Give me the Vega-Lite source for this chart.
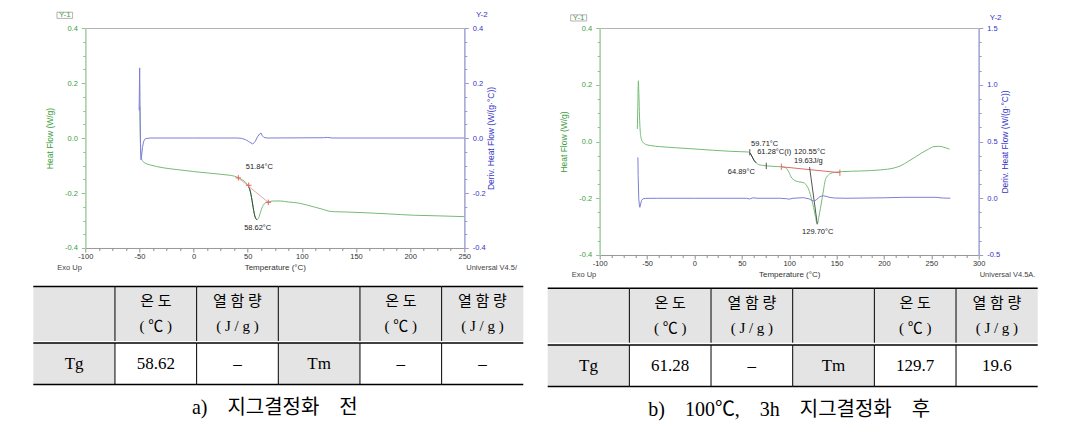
{
 "$schema": "https://vega.github.io/schema/vega-lite/v6.json",
 "background": "white",
 "padding": {"left": 32.3, "top": 10, "right": 0, "bottom": 0},
 "config": {
  "font": "Liberation Sans",
  "view": {"stroke": "#b4b4b4", "strokeWidth": 1},
  "locale": {"number": {"decimal": ".", "thousands": ",", "grouping": [3], "currency": ["", ""], "minus": "-"}},
  "axis": {"grid": false, "labelFlush": false, "labelOverlap": false, "labelFont": "Liberation Sans", "titleFont": "Liberation Sans", "titleFontWeight": "normal"},
  "title": {"font": "Liberation Sans", "fontWeight": "normal"}
 },
 "datasets": {
  "hfA": [
   {"t": -49.6, "v": 0.115}, {"t": -49.3, "v": 0.02}, {"t": -48.9, "v": -0.045}, {"t": -48.3, "v": -0.07}, {"t": -47.3, "v": -0.082},
   {"t": -46, "v": -0.088}, {"t": -44, "v": -0.093}, {"t": -40, "v": -0.098}, {"t": -34, "v": -0.104}, {"t": -27, "v": -0.109},
   {"t": -15, "v": -0.115}, {"t": 0, "v": -0.122}, {"t": 15, "v": -0.128}, {"t": 30, "v": -0.134}, {"t": 38, "v": -0.139},
   {"t": 42, "v": -0.146}, {"t": 45, "v": -0.152}, {"t": 48, "v": -0.161}, {"t": 50, "v": -0.172}, {"t": 51.5, "v": -0.183},
   {"t": 52.5, "v": -0.196}, {"t": 53.5, "v": -0.216}, {"t": 54.5, "v": -0.24}, {"t": 55.5, "v": -0.264}, {"t": 56.5, "v": -0.283},
   {"t": 57.6, "v": -0.294}, {"t": 58.6, "v": -0.297}, {"t": 59.6, "v": -0.294}, {"t": 60.6, "v": -0.285}, {"t": 61.6, "v": -0.272},
   {"t": 62.6, "v": -0.26}, {"t": 63.6, "v": -0.25}, {"t": 64.6, "v": -0.243}, {"t": 66, "v": -0.237}, {"t": 68, "v": -0.233},
   {"t": 70, "v": -0.231}, {"t": 75, "v": -0.229}, {"t": 80, "v": -0.229}, {"t": 88, "v": -0.233}, {"t": 96, "v": -0.236},
   {"t": 104, "v": -0.243}, {"t": 111.5, "v": -0.251}, {"t": 119, "v": -0.259}, {"t": 125, "v": -0.266}, {"t": 130, "v": -0.268},
   {"t": 140, "v": -0.269}, {"t": 160, "v": -0.272}, {"t": 180, "v": -0.276}, {"t": 204, "v": -0.281}, {"t": 225, "v": -0.283},
   {"t": 250, "v": -0.286}
  ],
  "dvA": [
   {"t": -50.3, "v": 0.1}, {"t": -49.8, "v": 0.255}, {"t": -49.4, "v": 0.1}, {"t": -49.0, "v": -0.02}, {"t": -48.6, "v": -0.079},
   {"t": -48.0, "v": -0.065}, {"t": -47.2, "v": -0.035}, {"t": -46.3, "v": -0.015}, {"t": -45.2, "v": -0.005}, {"t": -44, "v": -0.002},
   {"t": -40, "v": 0}, {"t": 0, "v": 0}, {"t": 40, "v": 0}, {"t": 44, "v": -0.001}, {"t": 48, "v": -0.006}, {"t": 51, "v": -0.013},
   {"t": 54.6, "v": -0.022}, {"t": 57, "v": -0.012}, {"t": 59, "v": 0.004}, {"t": 61, "v": 0.015}, {"t": 62.3, "v": 0.018},
   {"t": 63.5, "v": 0.008}, {"t": 65, "v": 0.002}, {"t": 68, "v": 0}, {"t": 120, "v": 0.001}, {"t": 124, "v": 0.002},
   {"t": 128, "v": 0}, {"t": 250, "v": 0}
  ],
  "tanA": [{"t1": 41.3, "v1": -0.145, "t2": 69, "v2": -0.234}],
  "mkA": [{"t": 41.3, "v": -0.145}, {"t": 50.9, "v": -0.172}, {"t": 69, "v": -0.234}],
  "lbA": [{"t": 60.7, "v": -0.107, "label": "51.84°C"}, {"t": 59.2, "v": -0.329, "label": "58.62°C"}],
  "hfB": [
   {"t": -60.3, "v": 0.044}, {"t": -59.8, "v": 0.12}, {"t": -59.2, "v": 0.214}, {"t": -58.6, "v": 0.16}, {"t": -58.0, "v": 0.09},
   {"t": -57.3, "v": 0.04}, {"t": -56.3, "v": 0.012}, {"t": -55, "v": 0.0}, {"t": -53, "v": -0.007}, {"t": -50.8, "v": -0.011},
   {"t": -45, "v": -0.015}, {"t": -36.7, "v": -0.018}, {"t": -20, "v": -0.022}, {"t": -1.5, "v": -0.026}, {"t": 20, "v": -0.031},
   {"t": 40.7, "v": -0.035}, {"t": 56.8, "v": -0.037}, {"t": 58.5, "v": -0.04}, {"t": 60, "v": -0.048}, {"t": 61.5, "v": -0.058},
   {"t": 63, "v": -0.067}, {"t": 65, "v": -0.075}, {"t": 67.7, "v": -0.081}, {"t": 72, "v": -0.084}, {"t": 76.8, "v": -0.086},
   {"t": 85, "v": -0.088}, {"t": 91.3, "v": -0.089}, {"t": 96.7, "v": -0.093}, {"t": 98.5, "v": -0.101}, {"t": 100.4, "v": -0.113},
   {"t": 102, "v": -0.125}, {"t": 104, "v": -0.133}, {"t": 107, "v": -0.139}, {"t": 110, "v": -0.142}, {"t": 114.9, "v": -0.145},
   {"t": 117, "v": -0.149}, {"t": 118.5, "v": -0.156}, {"t": 120.5, "v": -0.168}, {"t": 122.2, "v": -0.186}, {"t": 124, "v": -0.208},
   {"t": 125.8, "v": -0.233}, {"t": 127.7, "v": -0.264}, {"t": 129.4, "v": -0.29}, {"t": 130.3, "v": -0.286}, {"t": 131.2, "v": -0.268},
   {"t": 133, "v": -0.235}, {"t": 134.9, "v": -0.198}, {"t": 136.5, "v": -0.165}, {"t": 137.8, "v": -0.14}, {"t": 139.5, "v": -0.125},
   {"t": 141.4, "v": -0.118}, {"t": 144, "v": -0.112}, {"t": 147.6, "v": -0.109}, {"t": 156.6, "v": -0.106}, {"t": 175, "v": -0.104},
   {"t": 196.6, "v": -0.1}, {"t": 211, "v": -0.093}, {"t": 218, "v": -0.085}, {"t": 225.6, "v": -0.07}, {"t": 233, "v": -0.055},
   {"t": 240, "v": -0.04}, {"t": 247, "v": -0.027}, {"t": 252.8, "v": -0.018}, {"t": 258, "v": -0.017}, {"t": 262, "v": -0.019},
   {"t": 266, "v": -0.023}, {"t": 269.2, "v": -0.027}
  ],
  "dvB": [
   {"t": -59.7, "v": 0.36}, {"t": -59.4, "v": 0.2}, {"t": -58.8, "v": 0.0}, {"t": -58.0, "v": -0.07}, {"t": -57.6, "v": -0.08},
   {"t": -56.8, "v": -0.05}, {"t": -55.8, "v": -0.02}, {"t": -54.5, "v": -0.006}, {"t": -52, "v": -0.001}, {"t": -40, "v": 0},
   {"t": 0, "v": 0}, {"t": 55, "v": 0.0}, {"t": 58, "v": -0.006}, {"t": 62, "v": 0.004}, {"t": 66, "v": 0}, {"t": 90, "v": 0},
   {"t": 97, "v": -0.004}, {"t": 100, "v": -0.008}, {"t": 104, "v": 0}, {"t": 115, "v": 0.005}, {"t": 121, "v": -0.005},
   {"t": 123.5, "v": -0.018}, {"t": 126, "v": -0.024}, {"t": 128.5, "v": -0.016}, {"t": 131, "v": 0.005}, {"t": 133.5, "v": 0.018},
   {"t": 136, "v": 0.021}, {"t": 139, "v": 0.017}, {"t": 143, "v": 0.007}, {"t": 148, "v": 0.002}, {"t": 160, "v": 0},
   {"t": 200, "v": 0.004}, {"t": 220, "v": 0.008}, {"t": 255, "v": 0.008}, {"t": 262, "v": 0.002}, {"t": 270, "v": 0}
  ],
  "segB": [
   {"t1": 91.7, "v1": -0.089, "t2": 153.5, "v2": -0.11, "kind": "baseline"},
   {"t1": 121.5, "v1": -0.09, "t2": 129.7, "v2": -0.292, "kind": "onset"}
  ],
  "mkB": [
   {"t": 58.4, "v": -0.038, "kind": "onset"}, {"t": 75.8, "v": -0.086, "kind": "onset"},
   {"t": 91.7, "v": -0.089, "kind": "baseline"}, {"t": 153.5, "v": -0.11, "kind": "baseline"}
  ],
  "lbB": [
   {"t": 74.1, "v": -0.009, "label": "59.71°C"},
   {"t": 84.2, "v": -0.037, "label": "61.28°C(I)"},
   {"t": 121.6, "v": -0.037, "label": "120.55°C"},
   {"t": 120.2, "v": -0.069, "label": "19.63J/g"},
   {"t": 49.5, "v": -0.107, "label": "64.89°C"},
   {"t": 130.1, "v": -0.32, "label": "129.70°C"}
  ],
  "thA": [
   {"row": "h", "col": "c1", "kind": "label", "text": ""},
   {"row": "h", "col": "c2", "kind": "label", "text": "온 도\n( ℃ )"},
   {"row": "h", "col": "c3", "kind": "label", "text": "열 함 량\n( J / g )"},
   {"row": "h", "col": "c4", "kind": "label", "text": ""},
   {"row": "h", "col": "c5", "kind": "label", "text": "온 도\n( ℃ )"},
   {"row": "h", "col": "c6", "kind": "label", "text": "열 함 량\n( J / g )"}
  ],
  "tbA": [
   {"row": "d", "col": "c1", "kind": "label", "text": "Tg"},
   {"row": "d", "col": "c2", "kind": "value", "text": "58.62"},
   {"row": "d", "col": "c3", "kind": "value", "text": "–"},
   {"row": "d", "col": "c4", "kind": "label", "text": "Tm"},
   {"row": "d", "col": "c5", "kind": "value", "text": "–"},
   {"row": "d", "col": "c6", "kind": "value", "text": "–"}
  ],
  "tbB": [
   {"row": "d", "col": "c1", "kind": "label", "text": "Tg"},
   {"row": "d", "col": "c2", "kind": "value", "text": "61.28"},
   {"row": "d", "col": "c3", "kind": "value", "text": "–"},
   {"row": "d", "col": "c4", "kind": "label", "text": "Tm"},
   {"row": "d", "col": "c5", "kind": "value", "text": "129.7"},
   {"row": "d", "col": "c6", "kind": "value", "text": "19.6"}
  ]
 },
 "spacing": 22.4,
 "hconcat": [
  {
   "spacing": 0,
   "vconcat": [
    {
     "width": 379, "height": 220,
     "layer": [
      {
       "layer": [
        {"data": {"name": "hfA"}, "mark": {"type": "line", "color": "#74bb74", "strokeWidth": 1, "interpolate": "monotone"},
         "encoding": {
          "x": {"field": "t", "type": "quantitative", "scale": {"domain": [-100, 250], "nice": false, "zero": false},
                "axis": {"orient": "bottom", "values": [-100, -50, 0, 50, 100, 150, 200, 250], "title": "Temperature (°C)", "titleFontSize": 8, "titleColor": "#333333", "titlePadding": 3, "labelFontSize": 7.5, "labelColor": "#333333", "labelPadding": 1, "tickSize": 4, "tickColor": "#8c8c8c", "domainColor": "#9a9a9a", "domainWidth": 1}},
          "y": {"field": "v", "type": "quantitative", "scale": {"domain": [-0.4, 0.4], "nice": false, "zero": false},
                "axis": {"orient": "left", "values": [-0.4, -0.2, 0, 0.2, 0.4], "format": ".1f", "title": "Heat Flow (W/g)", "titleColor": "#3c9c3c", "titleFontSize": 8.5, "titlePadding": 10, "labelColor": "#3c9c3c", "labelFontSize": 7.5, "labelPadding": 4, "tickSize": 4, "tickColor": "#8cc48c", "domainColor": "#a9d7a9", "domainWidth": 1.5}}
         }},
        {"data": {"name": "hfA"}, "transform": [{"filter": "datum.t >= 50 && datum.t <= 58.6"}],
         "mark": {"type": "line", "color": "#2f4a2f", "strokeWidth": 1, "interpolate": "monotone"},
         "encoding": {
          "x": {"field": "t", "type": "quantitative", "scale": {"domain": [-100, 250], "nice": false, "zero": false},
                "axis": {"orient": "bottom", "values": [-87.5, -75, -62.5, -37.5, -25, -12.5, 12.5, 25, 37.5, 62.5, 75, 87.5, 112.5, 125, 137.5, 162.5, 175, 187.5, 212.5, 225, 237.5], "labels": false, "title": null, "domain": false, "tickSize": 2.5, "tickColor": "#8c8c8c"}},
          "y": {"field": "v", "type": "quantitative", "scale": {"domain": [-0.4, 0.4], "nice": false, "zero": false},
                "axis": {"orient": "left", "values": [-0.35, -0.3, -0.25, -0.15, -0.1, -0.05, 0.05, 0.1, 0.15, 0.25, 0.3, 0.35], "labels": false, "title": null, "domain": false, "tickSize": 2.5, "tickColor": "#8cc48c"}}
         }},
        {"data": {"name": "tanA"}, "mark": {"type": "rule", "color": "#e7a3a3", "strokeWidth": 1},
         "encoding": {
          "x": {"field": "t1", "type": "quantitative", "scale": {"domain": [-100, 250], "nice": false, "zero": false}, "axis": null},
          "y": {"field": "v1", "type": "quantitative", "scale": {"domain": [-0.4, 0.4], "nice": false, "zero": false}, "axis": null},
          "x2": {"field": "t2"}, "y2": {"field": "v2"}
         }},
        {"data": {"name": "mkA"}, "mark": {"type": "point", "shape": "M-1,0L1,0M0,-1L0,1", "size": 30, "filled": false, "color": "#e06464", "strokeWidth": 1, "opacity": 1},
         "encoding": {
          "x": {"field": "t", "type": "quantitative", "scale": {"domain": [-100, 250], "nice": false, "zero": false}, "axis": null},
          "y": {"field": "v", "type": "quantitative", "scale": {"domain": [-0.4, 0.4], "nice": false, "zero": false}, "axis": null}
         }},
        {"data": {"name": "lbA"}, "mark": {"type": "text", "fontSize": 7.5, "color": "#222222", "baseline": "middle", "align": "center"},
         "encoding": {
          "x": {"field": "t", "type": "quantitative", "scale": {"domain": [-100, 250], "nice": false, "zero": false}, "axis": null},
          "y": {"field": "v", "type": "quantitative", "scale": {"domain": [-0.4, 0.4], "nice": false, "zero": false}, "axis": null},
          "text": {"field": "label"}
         }},
        {"data": {"values": [{"note": "Exo Up"}]}, "mark": {"type": "text", "align": "left", "baseline": "middle", "dx": -28, "dy": 20.3, "fontSize": 7.5, "color": "#444444"},
         "encoding": {
          "x": {"datum": -100, "type": "quantitative", "scale": {"domain": [-100, 250], "nice": false, "zero": false}, "axis": null},
          "y": {"datum": -0.4, "type": "quantitative", "scale": {"domain": [-0.4, 0.4], "nice": false, "zero": false}, "axis": null},
          "text": {"field": "note"}
         }},
        {"data": {"values": [{"note": "Universal V4.5/"}]}, "mark": {"type": "text", "align": "left", "baseline": "middle", "dx": 2, "dy": 20.3, "fontSize": 7.5, "color": "#444444"},
         "encoding": {
          "x": {"datum": 250, "type": "quantitative", "scale": {"domain": [-100, 250], "nice": false, "zero": false}, "axis": null},
          "y": {"datum": -0.4, "type": "quantitative", "scale": {"domain": [-0.4, 0.4], "nice": false, "zero": false}, "axis": null},
          "text": {"field": "note"}
         }},
        {"data": {"values": [{"note": "Y-1"}]}, "mark": {"type": "point", "shape": "M-2.83,-1.58H-1.27V-0.96H-2.83Z", "size": 400, "filled": false, "color": "#a0a0a0", "strokeWidth": 0.8, "opacity": 1},
         "encoding": {
          "x": {"datum": -100, "type": "quantitative", "scale": {"domain": [-100, 250], "nice": false, "zero": false}, "axis": null},
          "y": {"datum": 0.4, "type": "quantitative", "scale": {"domain": [-0.4, 0.4], "nice": false, "zero": false}, "axis": null}
         }},
        {"data": {"values": [{"note": "Y-1"}]}, "mark": {"type": "text", "align": "center", "baseline": "middle", "dx": -20.5, "dy": -12.7, "fontSize": 8, "color": "#4f9a4f"},
         "encoding": {
          "x": {"datum": -100, "type": "quantitative", "scale": {"domain": [-100, 250], "nice": false, "zero": false}, "axis": null},
          "y": {"datum": 0.4, "type": "quantitative", "scale": {"domain": [-0.4, 0.4], "nice": false, "zero": false}, "axis": null},
          "text": {"field": "note"}
         }}
       ],
       "resolve": {"axis": {"x": "independent", "y": "independent"}}
      },
      {
       "layer": [
        {"data": {"name": "dvA"}, "mark": {"type": "line", "color": "#7d7dd8", "strokeWidth": 1},
         "encoding": {
          "x": {"field": "t", "type": "quantitative", "scale": {"domain": [-100, 250], "nice": false, "zero": false}, "axis": null},
          "y": {"field": "v", "type": "quantitative", "scale": {"domain": [-0.4, 0.4], "nice": false, "zero": false},
                "axis": {"orient": "right", "values": [-0.4, -0.2, 0, 0.2, 0.4], "format": ".1f", "title": "Deriv. Heat Flow (W/(g·°C))", "titleAngle": 270, "titleColor": "#3434c4", "titleFontSize": 8.5, "titlePadding": 10, "labelColor": "#3434c4", "labelFontSize": 7.5, "labelPadding": 4, "tickSize": 4, "tickColor": "#9999cc", "domainColor": "#ababdd", "domainWidth": 1.5}}
         }},
        {"data": {"values": [{"note": "Y-2"}]}, "mark": {"type": "text", "align": "center", "baseline": "middle", "dx": 17.5, "dy": -12.7, "fontSize": 8, "color": "#3434c4"},
         "encoding": {
          "x": {"datum": 250, "type": "quantitative", "scale": {"domain": [-100, 250], "nice": false, "zero": false}, "axis": null},
          "y": {"datum": 0.4, "type": "quantitative", "scale": {"domain": [-0.4, 0.4], "nice": false, "zero": false},
                "axis": {"orient": "right", "values": [-0.35, -0.3, -0.25, -0.15, -0.1, -0.05, 0.05, 0.1, 0.15, 0.25, 0.3, 0.35], "labels": false, "title": null, "domain": false, "tickSize": 2.5, "tickColor": "#9999cc"}},
          "text": {"field": "note"}
         }}
       ],
       "resolve": {"axis": {"y": "independent"}}
      }
     ],
     "resolve": {"scale": {"y": "independent"}, "axis": {"x": "independent", "y": "independent"}}
    },
    {
     "width": 379, "height": 68,
     "view": {"stroke": null},
     "data": {"name": "thA"},
     "layer": [
      {"mark": {"type": "rect"},
       "encoding": {
        "x": {"field": "col", "type": "nominal", "axis": null, "scale": {"type": "band", "domain": ["c1", "c2", "c3", "c4", "c5", "c6"], "range": [-52, 438], "paddingInner": 0, "paddingOuter": 0}},
        "y": {"field": "row", "type": "nominal", "axis": null, "scale": {"type": "band", "paddingInner": 0, "paddingOuter": 0.125, "align": 1}},
        "fill": {"field": "kind", "type": "nominal", "scale": {"domain": ["label", "value"], "range": ["#e4e4e4", "#ffffff"]}, "legend": null}
       }},
      {"transform": [{"filter": "datum.col != 'c1'"}], "mark": {"type": "rule", "color": "#000000", "strokeWidth": 1},
       "encoding": {
        "x": {"field": "col", "type": "nominal", "bandPosition": 0, "axis": null, "scale": {"type": "band", "domain": ["c1", "c2", "c3", "c4", "c5", "c6"], "range": [-52, 438], "paddingInner": 0, "paddingOuter": 0}},
        "y": {"field": "row", "type": "nominal", "bandPosition": 0, "axis": null, "scale": {"type": "band", "paddingInner": 0, "paddingOuter": 0.125, "align": 1}},
        "y2": {"field": "row", "bandPosition": 1}
       }},
      {"mark": {"type": "rule", "color": "#000000", "strokeWidth": 1.5},
       "encoding": {
        "x": {"field": "col", "type": "nominal", "bandPosition": 0, "axis": null, "scale": {"type": "band", "domain": ["c1", "c2", "c3", "c4", "c5", "c6"], "range": [-52, 438], "paddingInner": 0, "paddingOuter": 0}},
        "x2": {"field": "col", "bandPosition": 1},
        "y": {"field": "row", "type": "nominal", "bandPosition": 0, "axis": null, "scale": {"type": "band", "paddingInner": 0, "paddingOuter": 0.125, "align": 1}}
       }},
      {"mark": {"type": "text", "font": "Liberation Serif, Noto Sans CJK KR", "fontSize": 15, "lineBreak": "\n", "lineHeight": 25, "color": "#000000", "baseline": "middle", "dy": -12.5},
       "encoding": {
        "x": {"field": "col", "type": "nominal", "axis": null, "scale": {"type": "band", "domain": ["c1", "c2", "c3", "c4", "c5", "c6"], "range": [-52, 438], "paddingInner": 0, "paddingOuter": 0}},
        "y": {"field": "row", "type": "nominal", "axis": null, "scale": {"type": "band", "paddingInner": 0, "paddingOuter": 0.125, "align": 1}},
        "text": {"field": "text"}
       }}
     ]
    },
    {
     "width": 379, "height": 41.6,
     "view": {"stroke": null},
     "data": {"name": "tbA"},
     "title": {"text": "a)\u2003지그결정화\u2003전", "orient": "bottom", "anchor": "middle", "frame": "group", "offset": 13, "font": "Liberation Serif, Noto Sans CJK KR", "fontSize": 20, "fontWeight": "normal", "color": "#000000"},
     "layer": [
      {"mark": {"type": "rect"},
       "encoding": {
        "x": {"field": "col", "type": "nominal", "axis": null, "scale": {"type": "band", "domain": ["c1", "c2", "c3", "c4", "c5", "c6"], "range": [-52, 438], "paddingInner": 0, "paddingOuter": 0}},
        "y": {"field": "row", "type": "nominal", "axis": null, "scale": {"type": "band", "paddingInner": 0, "paddingOuter": 0}},
        "fill": {"field": "kind", "type": "nominal", "scale": {"domain": ["label", "value"], "range": ["#e4e4e4", "#ffffff"]}, "legend": null}
       }},
      {"transform": [{"filter": "datum.col != 'c1'"}], "mark": {"type": "rule", "color": "#000000", "strokeWidth": 1},
       "encoding": {
        "x": {"field": "col", "type": "nominal", "bandPosition": 0, "axis": null, "scale": {"type": "band", "domain": ["c1", "c2", "c3", "c4", "c5", "c6"], "range": [-52, 438], "paddingInner": 0, "paddingOuter": 0}},
        "y": {"field": "row", "type": "nominal", "bandPosition": 0, "axis": null, "scale": {"type": "band", "paddingInner": 0, "paddingOuter": 0}},
        "y2": {"field": "row", "bandPosition": 1}
       }},
      {"mark": {"type": "rule", "color": "#000000", "strokeWidth": 1.5},
       "encoding": {
        "x": {"field": "col", "type": "nominal", "bandPosition": 0, "axis": null, "scale": {"type": "band", "domain": ["c1", "c2", "c3", "c4", "c5", "c6"], "range": [-52, 438], "paddingInner": 0, "paddingOuter": 0}},
        "x2": {"field": "col", "bandPosition": 1},
        "y": {"field": "row", "type": "nominal", "bandPosition": 0, "axis": null, "scale": {"type": "band", "paddingInner": 0, "paddingOuter": 0}}
       }},
      {"mark": {"type": "rule", "color": "#000000", "strokeWidth": 1.5},
       "encoding": {
        "x": {"field": "col", "type": "nominal", "bandPosition": 0, "axis": null, "scale": {"type": "band", "domain": ["c1", "c2", "c3", "c4", "c5", "c6"], "range": [-52, 438], "paddingInner": 0, "paddingOuter": 0}},
        "x2": {"field": "col", "bandPosition": 1},
        "y": {"field": "row", "type": "nominal", "bandPosition": 1, "axis": null, "scale": {"type": "band", "paddingInner": 0, "paddingOuter": 0}}
       }},
      {"mark": {"type": "text", "font": "Liberation Serif, Noto Sans CJK KR", "fontSize": 17, "color": "#000000", "baseline": "middle"},
       "encoding": {
        "x": {"field": "col", "type": "nominal", "axis": null, "scale": {"type": "band", "domain": ["c1", "c2", "c3", "c4", "c5", "c6"], "range": [-52, 438], "paddingInner": 0, "paddingOuter": 0}},
        "y": {"field": "row", "type": "nominal", "axis": null, "scale": {"type": "band", "paddingInner": 0, "paddingOuter": 0}},
        "text": {"field": "text"}
       }}
     ]
    }
   ]
  },
  {
   "spacing": 0,
   "vconcat": [
    {
     "width": 379, "height": 227,
     "layer": [
      {
       "layer": [
        {"data": {"name": "hfB"}, "mark": {"type": "line", "color": "#74bb74", "strokeWidth": 1, "interpolate": "monotone"},
         "encoding": {
          "x": {"field": "t", "type": "quantitative", "scale": {"domain": [-100, 300], "nice": false, "zero": false},
                "axis": {"orient": "bottom", "values": [-100, -50, 0, 50, 100, 150, 200, 250, 300], "title": "Temperature (°C)", "titleFontSize": 8, "titleColor": "#333333", "titlePadding": 3, "labelFontSize": 7.5, "labelColor": "#333333", "labelPadding": 1, "tickSize": 4, "tickColor": "#8c8c8c", "domainColor": "#9a9a9a", "domainWidth": 1}},
          "y": {"field": "v", "type": "quantitative", "scale": {"domain": [-0.4, 0.4], "nice": false, "zero": false},
                "axis": {"orient": "left", "values": [-0.4, -0.2, 0, 0.2, 0.4], "format": ".1f", "title": "Heat Flow (W/g)", "titleColor": "#3c9c3c", "titleFontSize": 8.5, "titlePadding": 10, "labelColor": "#3c9c3c", "labelFontSize": 7.5, "labelPadding": 4, "tickSize": 4, "tickColor": "#8cc48c", "domainColor": "#a9d7a9", "domainWidth": 1.5}}
         }},
        {"data": {"name": "hfB"}, "transform": [{"filter": "datum.t >= 58.5 && datum.t <= 65"}],
         "mark": {"type": "line", "color": "#333333", "strokeWidth": 1},
         "encoding": {
          "x": {"field": "t", "type": "quantitative", "scale": {"domain": [-100, 300], "nice": false, "zero": false},
                "axis": {"orient": "bottom", "values": [-87.5, -75, -62.5, -37.5, -25, -12.5, 12.5, 25, 37.5, 62.5, 75, 87.5, 112.5, 125, 137.5, 162.5, 175, 187.5, 212.5, 225, 237.5, 262.5, 275, 287.5], "labels": false, "title": null, "domain": false, "tickSize": 2.5, "tickColor": "#8c8c8c"}},
          "y": {"field": "v", "type": "quantitative", "scale": {"domain": [-0.4, 0.4], "nice": false, "zero": false},
                "axis": {"orient": "left", "values": [-0.35, -0.3, -0.25, -0.15, -0.1, -0.05, 0.05, 0.1, 0.15, 0.25, 0.3, 0.35], "labels": false, "title": null, "domain": false, "tickSize": 2.5, "tickColor": "#8cc48c"}}
         }},
        {"data": {"name": "segB"}, "mark": {"type": "rule", "strokeWidth": 1},
         "encoding": {
          "x": {"field": "t1", "type": "quantitative", "scale": {"domain": [-100, 300], "nice": false, "zero": false}, "axis": null},
          "y": {"field": "v1", "type": "quantitative", "scale": {"domain": [-0.4, 0.4], "nice": false, "zero": false}, "axis": null},
          "x2": {"field": "t2"}, "y2": {"field": "v2"},
          "color": {"field": "kind", "type": "nominal", "scale": {"domain": ["baseline", "onset"], "range": ["#e06a6a", "#555555"]}, "legend": null}
         }},
        {"data": {"name": "mkB"}, "mark": {"type": "point", "shape": "M0,-1L0,1", "size": 40, "filled": false, "strokeWidth": 1, "opacity": 1},
         "encoding": {
          "x": {"field": "t", "type": "quantitative", "scale": {"domain": [-100, 300], "nice": false, "zero": false}, "axis": null},
          "y": {"field": "v", "type": "quantitative", "scale": {"domain": [-0.4, 0.4], "nice": false, "zero": false}, "axis": null},
          "color": {"field": "kind", "type": "nominal", "scale": {"domain": ["baseline", "onset"], "range": ["#e06a6a", "#555555"]}, "legend": null}
         }},
        {"data": {"name": "lbB"}, "mark": {"type": "text", "fontSize": 7.5, "color": "#222222", "baseline": "middle", "align": "center"},
         "encoding": {
          "x": {"field": "t", "type": "quantitative", "scale": {"domain": [-100, 300], "nice": false, "zero": false}, "axis": null},
          "y": {"field": "v", "type": "quantitative", "scale": {"domain": [-0.4, 0.4], "nice": false, "zero": false}, "axis": null},
          "text": {"field": "label"}
         }},
        {"data": {"values": [{"note": "Exo Up"}]}, "mark": {"type": "text", "align": "left", "baseline": "middle", "dx": -28, "dy": 20.5, "fontSize": 7.5, "color": "#444444"},
         "encoding": {
          "x": {"datum": -100, "type": "quantitative", "scale": {"domain": [-100, 300], "nice": false, "zero": false}, "axis": null},
          "y": {"datum": -0.4, "type": "quantitative", "scale": {"domain": [-0.4, 0.4], "nice": false, "zero": false}, "axis": null},
          "text": {"field": "note"}
         }},
        {"data": {"values": [{"note": "Universal V4.5A."}]}, "mark": {"type": "text", "align": "left", "baseline": "middle", "dx": 1, "dy": 20.5, "fontSize": 7.5, "color": "#444444"},
         "encoding": {
          "x": {"datum": 300, "type": "quantitative", "scale": {"domain": [-100, 300], "nice": false, "zero": false}, "axis": null},
          "y": {"datum": -0.4, "type": "quantitative", "scale": {"domain": [-0.4, 0.4], "nice": false, "zero": false}, "axis": null},
          "text": {"field": "note"}
         }},
        {"data": {"values": [{"note": "Y-1"}]}, "mark": {"type": "point", "shape": "M-2.9,-1.32H-1.3V-0.7H-2.9Z", "size": 400, "filled": false, "color": "#a0a0a0", "strokeWidth": 0.8, "opacity": 1},
         "encoding": {
          "x": {"datum": -100, "type": "quantitative", "scale": {"domain": [-100, 300], "nice": false, "zero": false}, "axis": null},
          "y": {"datum": 0.4, "type": "quantitative", "scale": {"domain": [-0.4, 0.4], "nice": false, "zero": false}, "axis": null}
         }},
        {"data": {"values": [{"note": "Y-1"}]}, "mark": {"type": "text", "align": "center", "baseline": "middle", "dx": -21, "dy": -10, "fontSize": 8, "color": "#4f9a4f"},
         "encoding": {
          "x": {"datum": -100, "type": "quantitative", "scale": {"domain": [-100, 300], "nice": false, "zero": false}, "axis": null},
          "y": {"datum": 0.4, "type": "quantitative", "scale": {"domain": [-0.4, 0.4], "nice": false, "zero": false}, "axis": null},
          "text": {"field": "note"}
         }}
       ],
       "resolve": {"axis": {"x": "independent", "y": "independent"}}
      },
      {
       "layer": [
        {"data": {"name": "dvB"}, "mark": {"type": "line", "color": "#7d7dd8", "strokeWidth": 1},
         "encoding": {
          "x": {"field": "t", "type": "quantitative", "scale": {"domain": [-100, 300], "nice": false, "zero": false}, "axis": null},
          "y": {"field": "v", "type": "quantitative", "scale": {"domain": [-0.5, 1.5], "nice": false, "zero": false},
                "axis": {"orient": "right", "values": [-0.5, 0, 0.5, 1, 1.5], "format": ".1f", "title": "Deriv. Heat Flow (W/(g·°C))", "titleAngle": 270, "titleColor": "#3434c4", "titleFontSize": 8.5, "titlePadding": 10, "labelColor": "#3434c4", "labelFontSize": 7.5, "labelPadding": 4, "tickSize": 4, "tickColor": "#9999cc", "domainColor": "#ababdd", "domainWidth": 1.5}}
         }},
        {"data": {"values": [{"note": "Y-2"}]}, "mark": {"type": "text", "align": "center", "baseline": "middle", "dx": 17, "dy": -10, "fontSize": 8, "color": "#3434c4"},
         "encoding": {
          "x": {"datum": 300, "type": "quantitative", "scale": {"domain": [-100, 300], "nice": false, "zero": false}, "axis": null},
          "y": {"datum": 1.5, "type": "quantitative", "scale": {"domain": [-0.5, 1.5], "nice": false, "zero": false},
                "axis": {"orient": "right", "values": [-0.375, -0.25, -0.125, 0.125, 0.25, 0.375, 0.625, 0.75, 0.875, 1.125, 1.25, 1.375], "labels": false, "title": null, "domain": false, "tickSize": 2.5, "tickColor": "#9999cc"}},
          "text": {"field": "note"}
         }}
       ],
       "resolve": {"axis": {"y": "independent"}}
      }
     ],
     "resolve": {"scale": {"y": "independent"}, "axis": {"x": "independent", "y": "independent"}}
    },
    {
     "width": 379, "height": 62.7,
     "view": {"stroke": null},
     "data": {"name": "thA"},
     "layer": [
      {"mark": {"type": "rect"},
       "encoding": {
        "x": {"field": "col", "type": "nominal", "axis": null, "scale": {"type": "band", "domain": ["c1", "c2", "c3", "c4", "c5", "c6"], "range": [-52, 438], "paddingInner": 0, "paddingOuter": 0}},
        "y": {"field": "row", "type": "nominal", "axis": null, "scale": {"type": "band", "paddingInner": 0, "paddingOuter": 0.0763, "align": 1}},
        "fill": {"field": "kind", "type": "nominal", "scale": {"domain": ["label", "value"], "range": ["#e4e4e4", "#ffffff"]}, "legend": null}
       }},
      {"transform": [{"filter": "datum.col != 'c1'"}], "mark": {"type": "rule", "color": "#000000", "strokeWidth": 1},
       "encoding": {
        "x": {"field": "col", "type": "nominal", "bandPosition": 0, "axis": null, "scale": {"type": "band", "domain": ["c1", "c2", "c3", "c4", "c5", "c6"], "range": [-52, 438], "paddingInner": 0, "paddingOuter": 0}},
        "y": {"field": "row", "type": "nominal", "bandPosition": 0, "axis": null, "scale": {"type": "band", "paddingInner": 0, "paddingOuter": 0.0763, "align": 1}},
        "y2": {"field": "row", "bandPosition": 1}
       }},
      {"mark": {"type": "rule", "color": "#000000", "strokeWidth": 1.5},
       "encoding": {
        "x": {"field": "col", "type": "nominal", "bandPosition": 0, "axis": null, "scale": {"type": "band", "domain": ["c1", "c2", "c3", "c4", "c5", "c6"], "range": [-52, 438], "paddingInner": 0, "paddingOuter": 0}},
        "x2": {"field": "col", "bandPosition": 1},
        "y": {"field": "row", "type": "nominal", "bandPosition": 0, "axis": null, "scale": {"type": "band", "paddingInner": 0, "paddingOuter": 0.0763, "align": 1}}
       }},
      {"mark": {"type": "text", "font": "Liberation Serif, Noto Sans CJK KR", "fontSize": 15, "lineBreak": "\n", "lineHeight": 25, "color": "#000000", "baseline": "middle", "dy": -12.5},
       "encoding": {
        "x": {"field": "col", "type": "nominal", "axis": null, "scale": {"type": "band", "domain": ["c1", "c2", "c3", "c4", "c5", "c6"], "range": [-52, 438], "paddingInner": 0, "paddingOuter": 0}},
        "y": {"field": "row", "type": "nominal", "axis": null, "scale": {"type": "band", "paddingInner": 0, "paddingOuter": 0.0763, "align": 1}},
        "text": {"field": "text"}
       }}
     ]
    },
    {
     "width": 379, "height": 41.6,
     "view": {"stroke": null},
     "data": {"name": "tbB"},
     "title": {"text": "b)\u2003100℃,\u20033h\u2003지그결정화\u2003후", "orient": "bottom", "anchor": "middle", "frame": "group", "offset": 13, "font": "Liberation Serif, Noto Sans CJK KR", "fontSize": 20, "fontWeight": "normal", "color": "#000000"},
     "layer": [
      {"mark": {"type": "rect"},
       "encoding": {
        "x": {"field": "col", "type": "nominal", "axis": null, "scale": {"type": "band", "domain": ["c1", "c2", "c3", "c4", "c5", "c6"], "range": [-52, 438], "paddingInner": 0, "paddingOuter": 0}},
        "y": {"field": "row", "type": "nominal", "axis": null, "scale": {"type": "band", "paddingInner": 0, "paddingOuter": 0}},
        "fill": {"field": "kind", "type": "nominal", "scale": {"domain": ["label", "value"], "range": ["#e4e4e4", "#ffffff"]}, "legend": null}
       }},
      {"transform": [{"filter": "datum.col != 'c1'"}], "mark": {"type": "rule", "color": "#000000", "strokeWidth": 1},
       "encoding": {
        "x": {"field": "col", "type": "nominal", "bandPosition": 0, "axis": null, "scale": {"type": "band", "domain": ["c1", "c2", "c3", "c4", "c5", "c6"], "range": [-52, 438], "paddingInner": 0, "paddingOuter": 0}},
        "y": {"field": "row", "type": "nominal", "bandPosition": 0, "axis": null, "scale": {"type": "band", "paddingInner": 0, "paddingOuter": 0}},
        "y2": {"field": "row", "bandPosition": 1}
       }},
      {"mark": {"type": "rule", "color": "#000000", "strokeWidth": 1.5},
       "encoding": {
        "x": {"field": "col", "type": "nominal", "bandPosition": 0, "axis": null, "scale": {"type": "band", "domain": ["c1", "c2", "c3", "c4", "c5", "c6"], "range": [-52, 438], "paddingInner": 0, "paddingOuter": 0}},
        "x2": {"field": "col", "bandPosition": 1},
        "y": {"field": "row", "type": "nominal", "bandPosition": 0, "axis": null, "scale": {"type": "band", "paddingInner": 0, "paddingOuter": 0}}
       }},
      {"mark": {"type": "rule", "color": "#000000", "strokeWidth": 1.5},
       "encoding": {
        "x": {"field": "col", "type": "nominal", "bandPosition": 0, "axis": null, "scale": {"type": "band", "domain": ["c1", "c2", "c3", "c4", "c5", "c6"], "range": [-52, 438], "paddingInner": 0, "paddingOuter": 0}},
        "x2": {"field": "col", "bandPosition": 1},
        "y": {"field": "row", "type": "nominal", "bandPosition": 1, "axis": null, "scale": {"type": "band", "paddingInner": 0, "paddingOuter": 0}}
       }},
      {"mark": {"type": "text", "font": "Liberation Serif, Noto Sans CJK KR", "fontSize": 17, "color": "#000000", "baseline": "middle"},
       "encoding": {
        "x": {"field": "col", "type": "nominal", "axis": null, "scale": {"type": "band", "domain": ["c1", "c2", "c3", "c4", "c5", "c6"], "range": [-52, 438], "paddingInner": 0, "paddingOuter": 0}},
        "y": {"field": "row", "type": "nominal", "axis": null, "scale": {"type": "band", "paddingInner": 0, "paddingOuter": 0}},
        "text": {"field": "text"}
       }}
     ]
    }
   ]
  }
 ]
}
